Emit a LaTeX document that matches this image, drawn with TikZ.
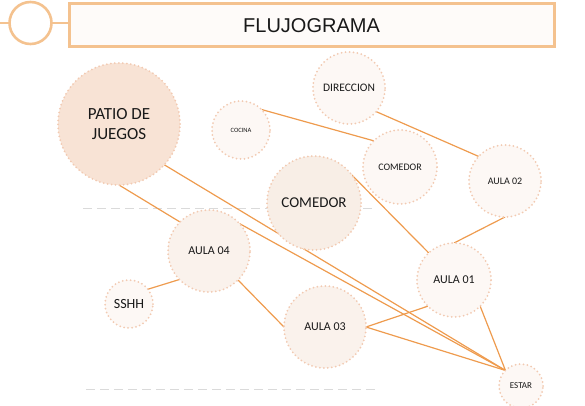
\documentclass[tikz,border=0pt]{standalone}
\usepackage{fontspec}
\setmainfont{Carlito}
\newfontfamily\titlefont{Liberation Sans}
\usetikzlibrary{backgrounds}

\definecolor{hdrorange}{RGB}{244,194,143}
\definecolor{linkorange}{RGB}{238,155,78}
\definecolor{dotpeach}{RGB}{242,202,178}
\definecolor{fillpatio}{RGB}{248,227,213}
\definecolor{fillbig}{RGB}{248,238,230}
\definecolor{fillmid}{RGB}{250,242,236}
\definecolor{fillpale}{RGB}{253,248,245}
\definecolor{rulegray}{RGB}{218,218,218}

\begin{document}
\begin{tikzpicture}[x=1pt, y=-1pt,
  every node/.style={align=center, inner sep=0pt, outer sep=0pt, text=black!90},
  room/.style={circle, draw=dotpeach, line width=2pt,
               dash pattern=on 0pt off 4pt, line cap=round},
  link/.style={draw=linkorange, line width=1.2pt},
  ruler/.style={draw=rulegray, line width=0.9pt, dash pattern=on 9pt off 5pt}
]
  \useasboundingbox (0,0) rectangle (585,406);

  % Header
  \node[circle, draw=hdrorange, line width=2.6pt, fill=white,
        minimum size=42pt] (ring) at (30.5,23) {};
  \node[rectangle, draw=hdrorange, line width=3pt, fill=fillpale!60,
        minimum width=485pt, minimum height=43pt] (title) at (311.5,25.5)
    {\titlefont\fontsize{20}{22}\selectfont FLUJOGRAMA};
  \coordinate (lft) at (0,23);
  \draw[draw=hdrorange, line width=2pt] (lft) -- (ring.west);
  \draw[draw=hdrorange, line width=2pt] (ring.east) -- (ring.east -| title.west);

  % Rooms
  \node[room, fill=fillpatio, minimum size=122pt,
        font=\fontsize{17}{20}\selectfont] (patio) at (119,124)
    {PATIO DE\\JUEGOS};
  \node[room, fill=fillpale, minimum size=58pt,
        font=\fontsize{6.5}{7}\selectfont] (cocina) at (241,130) {COCINA};
  \node[room, fill=fillpale, minimum size=72pt,
        font=\fontsize{11.5}{12}\selectfont] (direccion) at (349,88) {DIRECCION};
  \node[room, fill=fillpale, minimum size=74pt,
        font=\fontsize{10}{11}\selectfont] (comedorA) at (400,167) {COMEDOR};
  \node[room, fill=fillpale, minimum size=72pt,
        font=\fontsize{10}{11}\selectfont] (aulados) at (505,181) {AULA 02};
  \node[room, fill=fillbig, minimum size=94pt,
        font=\fontsize{15}{16}\selectfont] (comedorB) at (314,203) {COMEDOR};
  \node[room, fill=fillmid, minimum size=82pt,
        font=\fontsize{12}{13}\selectfont] (aulacuatro) at (209,251) {AULA 04};
  \node[room, fill=fillpale, minimum size=48pt,
        font=\fontsize{14}{15}\selectfont] (sshh) at (129,304) {SSHH};
  \node[room, fill=fillmid, minimum size=82pt,
        font=\fontsize{12}{13}\selectfont] (aulatres) at (325,327) {AULA 03};
  \node[room, fill=fillpale, minimum size=74pt,
        font=\fontsize{12}{13}\selectfont] (aulauno) at (454,280) {AULA 01};
  \node[room, fill=fillpale, minimum size=44pt,
        font=\fontsize{9}{10}\selectfont] (estar) at (521,386) {ESTAR};

  \begin{pgfonlayer}{background}
    % Guide lines
    \draw[ruler] (83,208) -- (375,208);
    \draw[ruler] (86,389) -- (378,389);

    % Connectors
    \draw[link] (cocina.45) -- (comedorA.135);
    \draw[link] (direccion.-41) -- (aulados.137);
    \draw[link] (aulados.south) -- (aulauno.north);
    \draw[link] (comedorB.37) -- (aulauno.133);
    \draw[link] (patio.south) -- (aulacuatro.north west);
    \draw[link] (patio.-42) -- (estar.north west);
    \draw[link] (aulacuatro.42) -- (estar.north west);
    \draw[link] (aulacuatro.south east) -- (aulatres.west);
    \draw[link] (aulacuatro.-136) -- (sshh.38);
    \draw[link] (aulatres.east) -- (aulauno.south west);
    \draw[link] (aulatres.east) -- (estar.north west);
    \draw[link] (aulauno.south east) -- (estar.north west);
  \end{pgfonlayer}
\end{tikzpicture}
\end{document}
